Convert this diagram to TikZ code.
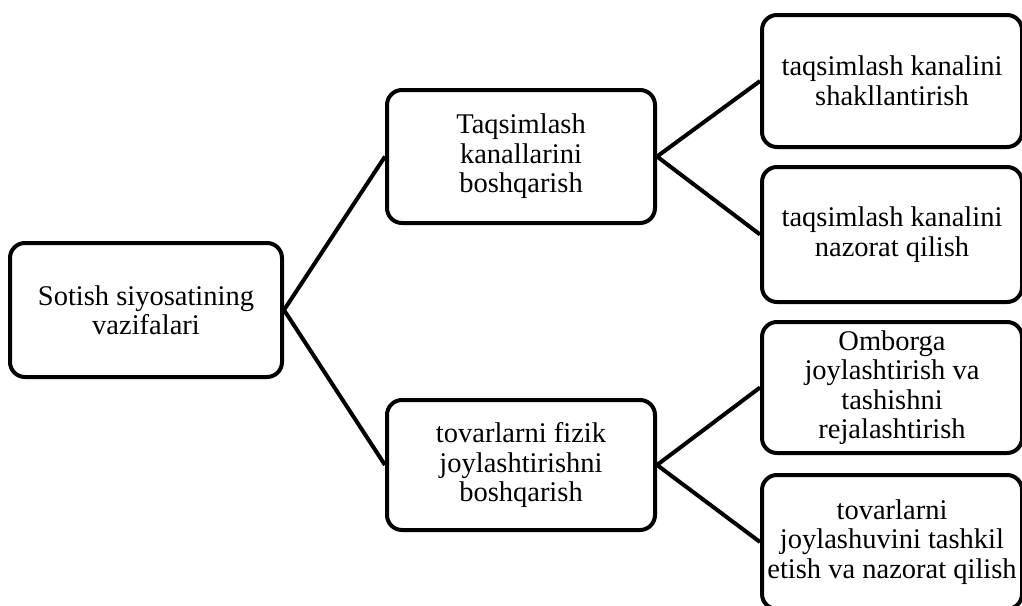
\documentclass[tikz,border=0pt]{standalone}
\usepackage{fontspec}
\setmainfont{Liberation Serif}
\begin{document}
\begin{tikzpicture}[x=1pt,y=-1pt,
  box/.style={draw=black, line width=4pt, rounded corners=15pt, inner sep=0pt,
    align=center, font=\fontsize{28.5}{29.5}\selectfont},
  link/.style={draw=black, line width=4pt}]
\useasboundingbox (0,0) rectangle (1022,605);
\clip (0,0) rectangle (1022,605);
\node[box, minimum width=272pt, minimum height=134pt] (root) at (146,310) {Sotish siyosatining\\vazifalari};
\node[box, minimum width=268pt, minimum height=133pt] (m1) at (521,156.5) {Taqsimlash\\kanallarini\\boshqarish};
\node[box, minimum width=268pt, minimum height=130pt] (m2) at (521,465) {tovarlarni fizik\\joylashtirishni\\boshqarish};
\node[box, minimum width=260pt, minimum height=132pt] (r1) at (892,81) {taqsimlash kanalini\\shakllantirish};
\node[box, minimum width=260pt, minimum height=135pt] (r2) at (892,234.5) {taqsimlash kanalini\\nazorat qilish};
\node[box, minimum width=260pt, minimum height=131pt] (r3) at (892,387.5) {Omborga\\joylashtirish va\\tashishni\\rejalashtirish};
\node[box, minimum width=260pt, minimum height=134pt] (r4) at (892,542) {tovarlarni\\joylashuvini tashkil\\etish va nazorat qilish};
\draw[link] (m1.west) -- (root.east) -- (m2.west);
\draw[link] (r1.west) -- (m1.east) -- (r2.west);
\draw[link] (r3.west) -- (m2.east) -- (r4.west);
\end{tikzpicture}
\end{document}
